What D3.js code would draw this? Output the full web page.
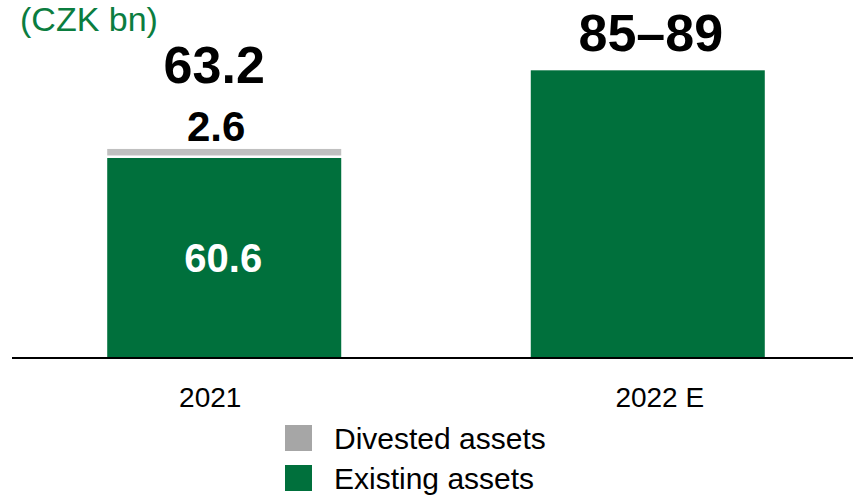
<!DOCTYPE html>
<html>
<head>
<meta charset="utf-8">
<script src="https://cdn.jsdelivr.net/npm/d3@7"></script>
<style>
  html, body { margin: 0; padding: 0; background: #fff; }
  svg { display: block; font-family: "Liberation Sans", Arial, sans-serif; }
</style>
</head>
<body>
<svg id="chart" width="853" height="495"></svg>
<script>
const categories = ["2021", "2022 E"];
const existingAssets = [60.6, 87.3];
const divestedAssets = [2.6, 0];
const totalLabels = ["63.2", "85–89"];
const existingLabels = ["60.6", ""];
const divestedLabels = ["2.6", ""];
const legendItems = ["Divested assets", "Existing assets"];
const unitLabel = "(CZK bn)";

const GREEN = "#00703c";
const GRAY_BAR = "#c0c0c0";
const GRAY_LEGEND = "#a6a6a6";
const TEXT_GREEN = "#0b7d3f";

const svg = d3.select("#chart");
const W = 853, H = 495;
const baseY = 357;

const data = categories.map((c, i) => ({
  cat: c, existing: existingAssets[i], divested: divestedAssets[i]
}));

const x = d3.scaleBand()
  .domain(categories)
  .range([17, 855])
  .paddingInner(0.4475)
  .paddingOuter(0.213);

const y = d3.scaleLinear()
  .domain([0, 100])
  .range([baseY, baseY - 328.4]);

const stack = d3.stack().keys(["existing", "divested"]);
const series = stack(data);
const colors = { existing: GREEN, divested: GRAY_BAR };

// bars
svg.append("g").selectAll("g")
  .data(series)
  .join("g")
  .attr("fill", d => colors[d.key])
  .selectAll("rect")
  .data(d => d.filter(v => v[1] - v[0] > 0).map(v => ({ v, key: d.key })))
  .join("rect")
  .attr("x", d => x(d.v.data.cat))
  .attr("width", x.bandwidth())
  .attr("y", d => y(d.v[1]) + (d.key === "divested" ? -0.5 : 0))
  .attr("height", d => d.key === "divested" ? (y(d.v[0]) - y(d.v[1]) - 2) : (y(d.v[0]) - y(d.v[1])));

// baseline
svg.append("line")
  .attr("x1", 12).attr("x2", W)
  .attr("y1", baseY + 1).attr("y2", baseY + 1)
  .attr("stroke", "#000").attr("stroke-width", 2);

// x axis labels
const labelDx = [-14, 12];
const xAxis = d3.axisBottom(x).tickSize(0).tickPadding(0);
const gx = svg.append("g").attr("transform", `translate(0,${baseY})`).call(xAxis);
gx.select(".domain").remove();
gx.selectAll(".tick text")
  .attr("font-size", 28)
  .attr("font-family", "Liberation Sans, Arial, sans-serif")
  .attr("fill", "#000")
  .attr("dy", null)
  .attr("y", 50)
  .attr("dx", (d, i) => labelDx[i]);

// labels inside existing bars
svg.append("g").selectAll("text")
  .data(data)
  .join("text")
  .attr("x", d => x(d.cat) + x.bandwidth() / 2 - 1)
  .attr("y", d => y(d.existing / 2) + 15)
  .attr("text-anchor", "middle")
  .attr("font-size", 40)
  .attr("font-weight", "bold")
  .attr("fill", "#fff")
  .text((d, i) => existingLabels[i]);

// divested labels
svg.append("g").selectAll("text")
  .data(data)
  .join("text")
  .attr("x", d => x(d.cat) + x.bandwidth() / 2 - 8)
  .attr("y", d => y(d.existing + d.divested) - 8)
  .attr("text-anchor", "middle")
  .attr("font-size", 42)
  .attr("font-weight", "bold")
  .attr("fill", "#000")
  .text((d, i) => divestedLabels[i]);

// total labels
const totalDx = [-10, 3];
const totalOffset = [-66, -19];
svg.append("g").selectAll("text")
  .data(data)
  .join("text")
  .attr("x", (d, i) => x(d.cat) + x.bandwidth() / 2 + totalDx[i])
  .attr("y", (d, i) => y(d.existing + d.divested) + totalOffset[i])
  .attr("text-anchor", "middle")
  .attr("font-size", 52)
  .attr("font-weight", "bold")
  .attr("fill", "#000")
  .text((d, i) => totalLabels[i]);

// unit label
svg.append("text")
  .attr("x", 20).attr("y", 31)
  .attr("font-size", 34)
  .attr("fill", TEXT_GREEN)
  .text(unitLabel);

// legend
const legendColors = [GRAY_LEGEND, GREEN];
const lg = svg.append("g").selectAll("g")
  .data(legendItems)
  .join("g")
  .attr("transform", (d, i) => `translate(285,${425 + i * 40})`);
lg.append("rect")
  .attr("width", 27).attr("height", 26)
  .attr("fill", (d, i) => legendColors[i]);
lg.append("text")
  .attr("x", 49).attr("y", 24)
  .attr("font-size", 30)
  .attr("fill", "#000")
  .text(d => d);
</script>
</body>
</html>
